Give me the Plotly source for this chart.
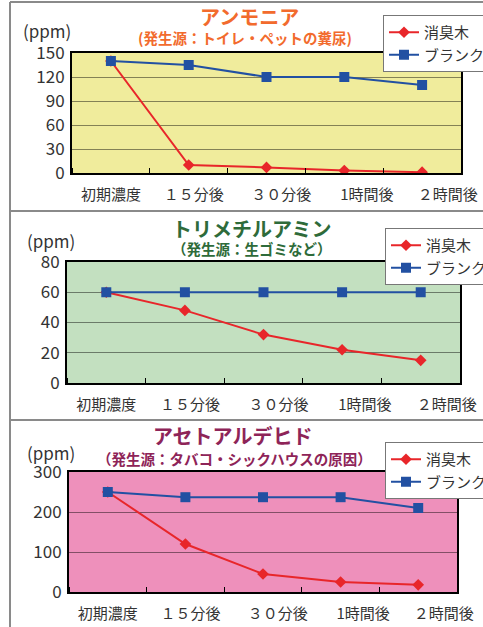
import plotly.graph_objects as go

W, H = 483, 627
categories = ["初期濃度", "１５分後", "３０分後", "1時間後", "２時間後"]
series_names = ["消臭木", "ブランク"]

ammonia_wood = [140, 10, 7, 3, 1]
ammonia_blank = [140, 135, 120, 120, 110]
tma_wood = [60, 48, 32, 22, 15]
tma_blank = [60, 60, 60, 60, 60]
acet_wood = [250, 120, 45, 25, 18]
acet_blank = [250, 237, 237, 237, 210]

FONT = "Noto Sans CJK JP"
RED = "#E8262A"
BLUE = "#2250A2"
TXT = "#333333"

panels = [
    dict(title="アンモニア", sub="(発生源：トイレ・ペットの糞尿)", tcol="#F26B2D",
         wood=ammonia_wood, blank=ammonia_blank, ymax=150, dtick=30, bg="#F0EC9C",
         px=(72, 461), py=(53, 173), tx=249, ty=17, sx=245, sy=37, ppm=(47, 31),
         leg=(383, 15)),
    dict(title="トリメチルアミン", sub="（発生源：生ゴミなど）", tcol="#2E6B3A",
         wood=tma_wood, blank=tma_blank, ymax=80, dtick=20, bg="#C3E0C0",
         px=(67, 460), py=(262, 383), tx=252, ty=228, sx=252, sy=249, ppm=(51, 240),
         leg=(385, 228)),
    dict(title="アセトアルデヒド", sub="（発生源：タバコ・シックハウスの原因）", tcol="#8E2458",
         wood=acet_wood, blank=acet_blank, ymax=300, dtick=100, bg="#EE90BB",
         px=(69, 457), py=(472, 592), tx=232, ty=435, sx=234, sy=458, ppm=(51, 452),
         leg=(385, 442)),
]

# label offsets (in category units) to mimic the original label placement
label_shift = [0, 0.065, 0.19, 0.29, 0.33]
xs = list(range(len(categories)))

fig = go.Figure()
annotations = []
shapes = []
layout = {}

for i, p in enumerate(panels):
    n = "" if i == 0 else str(i + 1)
    xa, ya = "x" + n, "y" + n
    lg = "legend" + n
    fig.add_trace(go.Scatter(x=xs, y=p["wood"], name=series_names[0], mode="lines+markers",
                             line=dict(color=RED, width=2),
                             marker=dict(symbol="diamond", size=9, color=RED),
                             xaxis=xa, yaxis=ya, legend=lg))
    fig.add_trace(go.Scatter(x=xs, y=p["blank"], name=series_names[1], mode="lines+markers",
                             line=dict(color=BLUE, width=2),
                             marker=dict(symbol="square", size=10, color=BLUE),
                             xaxis=xa, yaxis=ya, legend=lg))
    x0, x1 = p["px"]
    y0, y1 = p["py"]
    layout["xaxis" + n] = dict(
        domain=[x0 / W, x1 / W], range=[-0.5, len(categories) - 0.5], anchor=ya,
        tickmode="array", tickvals=[k + s for k, s in zip(xs, label_shift)],
        ticktext=categories, ticks="", showgrid=False, zeroline=False,
        showline=True, mirror=True, linecolor="black", linewidth=2,
        tickfont=dict(family=FONT, size=15, color=TXT), ticklabelstandoff=7,
        minor=dict(tickmode="linear", tick0=0.5, dtick=1, ticks="inside", ticklen=5,
                   tickcolor="black", showgrid=False),
        automargin=False, fixedrange=True)
    layout["yaxis" + n] = dict(
        domain=[(H - y1) / H, (H - y0) / H], range=[0, p["ymax"]], dtick=p["dtick"],
        anchor=xa, showgrid=True, gridcolor="rgba(0,0,0,0.45)", gridwidth=1,
        zeroline=False, showline=True, mirror=True, linecolor="black", linewidth=2,
        ticks="", tickfont=dict(family=FONT, size=17, color=TXT), ticklabelstandoff=2,
        automargin=False, fixedrange=True)
    layout[lg] = dict(x=p["leg"][0] / W, y=(H - p["leg"][1]) / H, xanchor="left", yanchor="top",
                      bgcolor="white", bordercolor="#777777", borderwidth=1,
                      font=dict(family=FONT, size=15, color=TXT),
                      tracegroupgap=0, itemwidth=30)
    shapes.append(dict(type="rect", xref="paper", yref="paper",
                       x0=x0 / W, x1=x1 / W, y0=(H - y1) / H, y1=(H - y0) / H,
                       fillcolor=p["bg"], line=dict(width=0), layer="below"))
    annotations.append(dict(text="<b>" + p["title"] + "</b>", x=p["tx"] / W, y=(H - p["ty"]) / H,
                            xref="paper", yref="paper", showarrow=False,
                            xanchor="center", yanchor="middle",
                            font=dict(family=FONT, size=20, color=p["tcol"])))
    annotations.append(dict(text="<b>" + p["sub"] + "</b>", x=p["sx"] / W, y=(H - p["sy"]) / H,
                            xref="paper", yref="paper", showarrow=False,
                            xanchor="center", yanchor="middle",
                            font=dict(family=FONT, size=14.5, color=p["tcol"])))
    annotations.append(dict(text="(ppm)", x=p["ppm"][0] / W, y=(H - p["ppm"][1]) / H,
                            xref="paper", yref="paper", showarrow=False,
                            xanchor="center", yanchor="middle",
                            font=dict(family=FONT, size=17, color=TXT)))

# frame lines
line_style = dict(color="#8a8a8a", width=2)
shapes.append(dict(type="line", xref="paper", yref="paper", x0=10 / W, x1=1, y0=(H - 2) / H, y1=(H - 2) / H, line=line_style))
shapes.append(dict(type="line", xref="paper", yref="paper", x0=10 / W, x1=10 / W, y0=0, y1=(H - 2) / H, line=line_style))
shapes.append(dict(type="line", xref="paper", yref="paper", x0=10 / W, x1=1, y0=(H - 211) / H, y1=(H - 211) / H, line=line_style))
shapes.append(dict(type="line", xref="paper", yref="paper", x0=10 / W, x1=1, y0=(H - 420) / H, y1=(H - 420) / H, line=line_style))

fig.update_layout(width=W, height=H, margin=dict(l=0, r=0, t=0, b=0, autoexpand=False),
                  paper_bgcolor="white", plot_bgcolor="rgba(0,0,0,0)",
                  annotations=annotations, shapes=shapes, showlegend=True,
                  font=dict(family=FONT), **layout)

fig.write_html("out.html", config={"displayModeBar": False},
               post_script="document.body.style.margin='0';document.body.style.overflow='hidden';")
